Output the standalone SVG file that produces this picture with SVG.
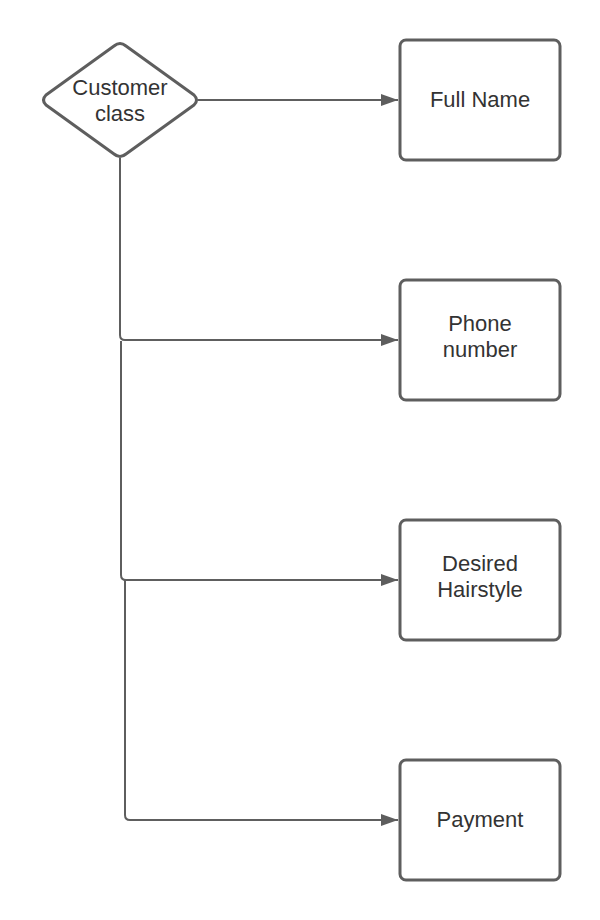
<svg xmlns="http://www.w3.org/2000/svg" width="600" height="920" viewBox="0 0 600 920">
<defs>
<style>
.node{fill:#ffffff;stroke:#5e5e5e;stroke-width:3;}
.lbl{font-family:"Liberation Sans",Arial,sans-serif;font-size:22px;fill:#333333;text-anchor:middle;}
.conn{fill:none;stroke:#5e5e5e;stroke-width:2;}
</style>
<marker id="arr" markerWidth="17" markerHeight="12" refX="17" refY="6" orient="auto" markerUnits="userSpaceOnUse">
<path d="M0,0 L17,6 L0,12 Z" fill="#5e5e5e"/>
</marker>
</defs>
<rect width="600" height="920" fill="#ffffff"/>
<g id="connectors">
<path class="conn" d="M198,100 L398,100" marker-end="url(#arr)"/>
<path class="conn" d="M120,158 L120,335 Q120,340 125,340 L398,340" marker-end="url(#arr)"/>
<path class="conn" d="M121,341 L121,575 Q121,580 126,580 L398,580" marker-end="url(#arr)"/>
<path class="conn" d="M125,580 L125,815 Q125,820 130,820 L398,820" marker-end="url(#arr)"/>
</g>
<g id="customer-class">
<path class="node" stroke-linejoin="round" d="M114,46 Q120,41 126,46 L194,95 Q199,100 194,105 L126,154 Q120,159 114,154 L46,105 Q41,100 46,95 Z"/>
<text class="lbl" x="120" y="95">Customer</text>
<text class="lbl" x="120" y="121">class</text>
</g>
<g id="full-name">
<rect class="node" x="400" y="40" width="160" height="120" rx="6"/>
<text class="lbl" x="480" y="107">Full Name</text>
</g>
<g id="phone-number">
<rect class="node" x="400" y="280" width="160" height="120" rx="6"/>
<text class="lbl" x="480" y="331">Phone</text>
<text class="lbl" x="480" y="357">number</text>
</g>
<g id="desired-hairstyle">
<rect class="node" x="400" y="520" width="160" height="120" rx="6"/>
<text class="lbl" x="480" y="571">Desired</text>
<text class="lbl" x="480" y="597">Hairstyle</text>
</g>
<g id="payment">
<rect class="node" x="400" y="760" width="160" height="120" rx="6"/>
<text class="lbl" x="480" y="827">Payment</text>
</g>
</svg>
